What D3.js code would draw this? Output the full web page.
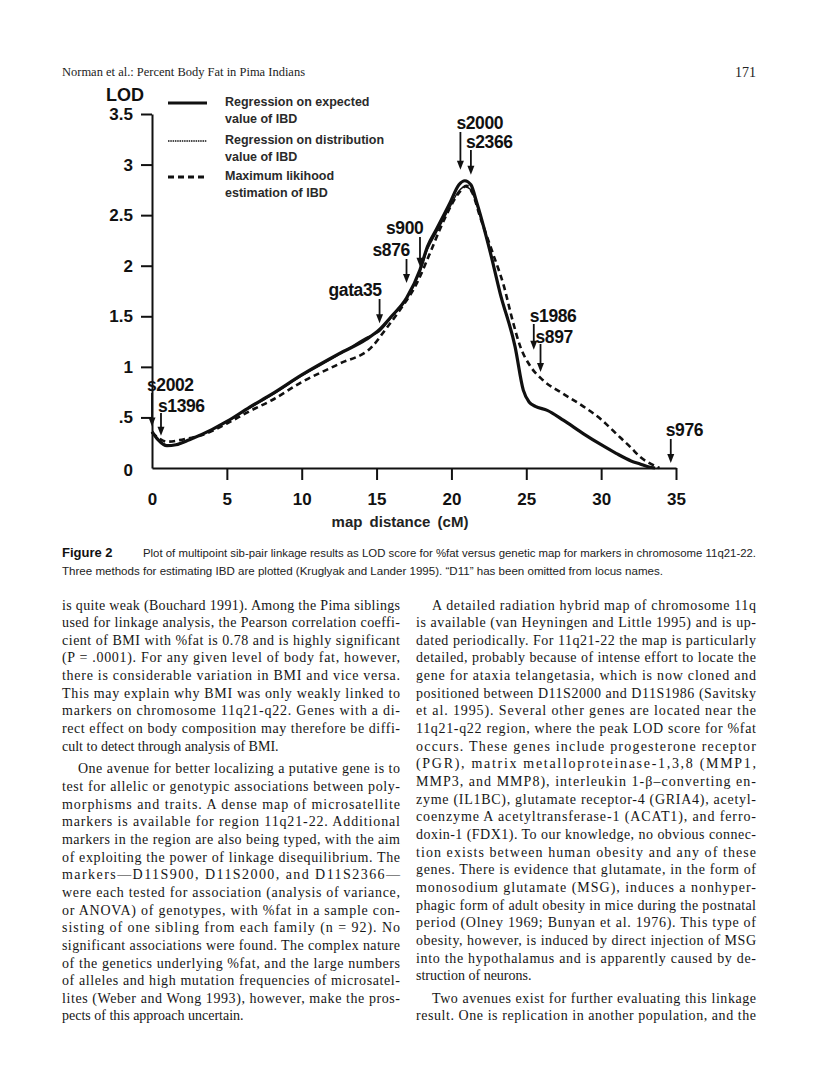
<!DOCTYPE html>
<html>
<head>
<meta charset="utf-8">
<script src="https://cdn.jsdelivr.net/npm/d3@7"></script>
<style>
  body { margin: 0; background: #fff; }
  svg { display: block; }
</style>
</head>
<body>
<div id="page"></div>
<script>
// LOD curves (cM, LOD)
var cmExpected = [0, 0.4, 1.0, 1.6, 2.5, 4, 5, 6.5, 8, 10, 12.5, 14.3, 15.2, 16, 17.0, 17.9, 18.4, 19.0, 19.9, 20.5, 20.9, 21.3, 21.7, 22.6, 23.25, 24.25, 24.8, 25.2, 25.6, 26.4, 27.5, 28.8, 30, 31, 32, 32.6, 33.2, 33.6]
var lodExpected = [0.36, 0.28, 0.22, 0.23, 0.28, 0.38, 0.46, 0.60, 0.73, 0.92, 1.13, 1.27, 1.37, 1.50, 1.68, 1.96, 2.19, 2.36, 2.62, 2.80, 2.84, 2.80, 2.62, 2.13, 1.73, 1.20, 0.77, 0.65, 0.61, 0.57, 0.47, 0.34, 0.23, 0.145, 0.07, 0.04, 0.01, 0]

var cmDistribution = [0, 0.4, 1.0, 1.6, 2.5, 4, 5, 6.5, 8, 10, 12.5, 14.3, 15.2, 16, 17.0, 17.9, 18.4, 19.0, 19.9, 20.5, 20.9, 21.3, 21.7, 22.6, 23.25, 24.25, 24.8, 25.2, 25.6, 26.4, 27.5, 28.8, 30, 31, 32, 32.6, 33.2, 33.6]
var lodDistribution = [0.35, 0.28, 0.23, 0.23, 0.28, 0.38, 0.46, 0.59, 0.72, 0.91, 1.12, 1.29, 1.35, 1.49, 1.67, 1.94, 2.16, 2.33, 2.58, 2.74, 2.78, 2.75, 2.60, 2.13, 1.73, 1.20, 0.77, 0.65, 0.61, 0.57, 0.47, 0.34, 0.23, 0.145, 0.07, 0.04, 0.01, 0]

var cmML = [0, 0.5, 1.0, 2, 3.6, 5, 6.5, 8, 10, 12.5, 14.7, 15.6, 16.5, 17.7, 18.5, 19.5, 20.5, 21.0, 21.4, 21.9, 22.7, 23.5, 24.1, 24.6, 25.3, 26.1, 27.4, 28.8, 30, 31, 32, 32.6, 33.2, 33.9]
var lodML = [0.35, 0.29, 0.26, 0.28, 0.34, 0.44, 0.56, 0.67, 0.85, 1.03, 1.20, 1.37, 1.55, 1.83, 2.10, 2.45, 2.72, 2.79, 2.72, 2.49, 2.15, 1.80, 1.45, 1.20, 1.00, 0.87, 0.74, 0.61, 0.48, 0.34, 0.20, 0.11, 0.05, 0]

var legendLabels = [
  ['Regression on expected', 'value of IBD'],
  ['Regression on distribution', 'value of IBD'],
  ['Maximum likihood', 'estimation of IBD']
]

// markers (cM) and the LOD where each arrow points
var markerNames = ['s2002', 's1396', 'gata35', 's876', 's900', 's2000', 's2366', 's1986', 's897', 's976']
var markerCM = [0, 0.6, 15.2, 17.0, 17.9, 20.6, 21.3, 25.5, 25.95, 34.65]
var markerTipLOD = [0.41, 0.32, 1.43, 1.83, 1.99, 2.95, 2.90, 1.17, 0.95, 0.05]

var xTicks = [0, 5, 10, 15, 20, 25, 30, 35]
var yTicks = [0, 0.5, 1, 1.5, 2, 2.5, 3, 3.5]

var headerLeft = 'Norman et al.: Percent Body Fat in Pima Indians'
var headerPage = '171'
var captionLabel = 'Figure 2'
var captionLines = [
  'Plot of multipoint sib-pair linkage results as LOD score for %fat versus genetic map for markers in chromosome 11q21-22.',
  'Three methods for estimating IBD are plotted (Kruglyak and Lander 1995). \u201cD11\u201d has been omitted from locus names.'
]

var leftColumn = [
  'is quite weak (Bouchard 1991). Among the Pima siblings',
  'used for linkage analysis, the Pearson correlation coeffi-',
  'cient of BMI with %fat is 0.78 and is highly significant',
  '(P = .0001). For any given level of body fat, however,',
  'there is considerable variation in BMI and vice versa.',
  'This may explain why BMI was only weakly linked to',
  'markers on chromosome 11q21-q22. Genes with a di-',
  'rect effect on body composition may therefore be diffi-',
  'cult to detect through analysis of BMI.',
  'One avenue for better localizing a putative gene is to',
  'test for allelic or genotypic associations between poly-',
  'morphisms and traits. A dense map of microsatellite',
  'markers is available for region 11q21-22. Additional',
  'markers in the region are also being typed, with the aim',
  'of exploiting the power of linkage disequilibrium. The',
  'markers\u2014D11S900, D11S2000, and D11S2366\u2014',
  'were each tested for association (analysis of variance,',
  'or ANOVA) of genotypes, with %fat in a sample con-',
  'sisting of one sibling from each family (n = 92). No',
  'significant associations were found. The complex nature',
  'of the genetics underlying %fat, and the large numbers',
  'of alleles and high mutation frequencies of microsatel-',
  'lites (Weber and Wong 1993), however, make the pros-',
  'pects of this approach uncertain.'
]
var leftParStarts = [9]
var leftParEnds = [8, 23]

var rightColumn = [
  'A detailed radiation hybrid map of chromosome 11q',
  'is available (van Heyningen and Little 1995) and is up-',
  'dated periodically. For 11q21-22 the map is particularly',
  'detailed, probably because of intense effort to locate the',
  'gene for ataxia telangetasia, which is now cloned and',
  'positioned between D11S2000 and D11S1986 (Savitsky',
  'et al. 1995). Several other genes are located near the',
  '11q21-q22 region, where the peak LOD score for %fat',
  'occurs. These genes include progesterone receptor',
  '(PGR), matrix metalloproteinase-1,3,8 (MMP1,',
  'MMP3, and MMP8), interleukin 1-\u03b2\u2013converting en-',
  'zyme (IL1BC), glutamate receptor-4 (GRIA4), acetyl-',
  'coenzyme A acetyltransferase-1 (ACAT1), and ferro-',
  'doxin-1 (FDX1). To our knowledge, no obvious connec-',
  'tion exists between human obesity and any of these',
  'genes. There is evidence that glutamate, in the form of',
  'monosodium glutamate (MSG), induces a nonhyper-',
  'phagic form of adult obesity in mice during the postnatal',
  'period (Olney 1969; Bunyan et al. 1976). This type of',
  'obesity, however, is induced by direct injection of MSG',
  'into the hypothalamus and is apparently caused by de-',
  'struction of neurons.',
  'Two avenues exist for further evaluating this linkage',
  'result. One is replication in another population, and the'
]
var rightParStarts = [0, 22]
var rightParEnds = [21]

var W = 816, H = 1081
var svg = d3.select('#page').append('svg').attr('width', W).attr('height', H)
svg.append('rect').attr('width', W).attr('height', H).attr('fill', '#fff')

var serif = '"Liberation Serif", "Times New Roman", serif'
var sans = '"Liberation Sans", Arial, Helvetica, sans-serif'

// header
svg.append('text').attr('x', 62).attr('y', 76).attr('font-family', serif).attr('font-size', 13)
  .attr('fill', '#222').attr('textLength', 243).attr('lengthAdjust', 'spacingAndGlyphs').text(headerLeft)
svg.append('text').attr('x', 756).attr('y', 77).attr('text-anchor', 'end').attr('font-family', serif)
  .attr('font-size', 14).attr('fill', '#222').text(headerPage)

// chart
var x = d3.scaleLinear().domain([0, 35]).range([152, 676])
var y = d3.scaleLinear().domain([0, 3.5]).range([468, 114])

var chart = svg.append('g')

var xAxis = chart.append('g').attr('transform', 'translate(0,' + y(0) + ')')
  .call(d3.axisBottom(x).tickValues(xTicks).tickSize(12).tickSizeOuter(0).tickPadding(13).tickFormat(d3.format('d')))
var yAxis = chart.append('g').attr('transform', 'translate(' + x(0) + ',0)')
  .call(d3.axisLeft(y).tickValues(yTicks).tickSize(11).tickSizeOuter(0).tickPadding(8)
    .tickFormat(function(d) { return d === 0.5 ? '.5' : String(d) }))

;[xAxis, yAxis].forEach(function(a) {
  a.select('.domain').attr('stroke', '#111').attr('stroke-width', 2)
  a.selectAll('.tick line').attr('stroke', '#111').attr('stroke-width', 2)
  a.selectAll('.tick text').attr('fill', '#111').attr('font-family', sans)
    .attr('font-weight', 'bold').attr('font-size', 17)
  a.selectAll('.tick').filter(function(d) { return d === 0 }).select('line').remove()
})
yAxis.selectAll('.tick').filter(function(d) { return d === 0 }).select('text').attr('dy', '0.45em')

chart.append('text').attr('x', 106).attr('y', 101).attr('font-family', sans).attr('font-weight', 'bold')
  .attr('font-size', 18).attr('fill', '#111').text('LOD')
chart.append('text').attr('x', 400).attr('y', 527).attr('text-anchor', 'middle').attr('font-family', sans)
  .attr('font-weight', 'bold').attr('font-size', 15).attr('word-spacing', 3).attr('fill', '#222')
  .text('map distance (cM)')

var line = d3.line().x(function(d) { return x(d[0]) }).y(function(d) { return y(d[1]) }).curve(d3.curveMonotoneX)

var series = [
  { cm: cmML, lod: lodML, width: 2.6, dash: '6,4' },
  { cm: cmExpected, lod: lodExpected, width: 3.2, dash: null },
  { cm: cmDistribution, lod: lodDistribution, width: 1.4, dash: null }
]
series.forEach(function(s) {
  chart.append('path').datum(d3.zip(s.cm, s.lod)).attr('d', line).attr('fill', 'none')
    .attr('stroke', '#111').attr('stroke-width', s.width).attr('stroke-dasharray', s.dash)
    .attr('stroke-linejoin', 'round')
})

// legend
var legendY = [103, 141, 177]
var legendStyles = [{ w: 3.2, dash: null }, { w: 1.6, dash: '1.5,0.8' }, { w: 2.8, dash: '6,4' }]
legendY.forEach(function(ly, i) {
  chart.append('line').attr('x1', 168).attr('x2', 207).attr('y1', ly).attr('y2', ly)
    .attr('stroke', '#111').attr('stroke-width', legendStyles[i].w).attr('stroke-dasharray', legendStyles[i].dash)
  legendLabels[i].forEach(function(t, j) {
    chart.append('text').attr('x', 225).attr('y', ly + 3 + j * 17).attr('font-family', sans)
      .attr('font-weight', 'bold').attr('font-size', 12.5).attr('fill', '#2a2a2a').text(t)
  })
})

// marker arrows: label offset from arrow x, label centre y, arrow start y
var markerLayout = [
  { dx: -5, ly: 385, top: 393 },
  { dx: -3, ly: 406, top: 413 },
  { dx: -51, ly: 290, top: 299 },
  { dx: -34, ly: 250, top: 259 },
  { dx: -34, ly: 228, top: 237 },
  { dx: -4, ly: 123, top: 132 },
  { dx: -5, ly: 142, top: 150 },
  { dx: -4, ly: 316, top: 324 },
  { dx: -5, ly: 337, top: 344 },
  { dx: -5, ly: 430, top: 439 }
]
markerNames.forEach(function(name, i) {
  var mx = x(markerCM[i]), tip = y(markerTipLOD[i]), L = markerLayout[i]
  chart.append('line').attr('x1', mx).attr('x2', mx).attr('y1', L.top).attr('y2', tip - 6)
    .attr('stroke', '#111').attr('stroke-width', 1.8)
  chart.append('path').attr('d', 'M' + (mx - 3.5) + ',' + (tip - 9) + 'L' + (mx + 3.5) + ',' + (tip - 9) + 'L' + mx + ',' + tip + 'Z')
    .attr('fill', '#111')
  chart.append('text').attr('x', mx + L.dx).attr('y', L.ly + 6).attr('font-family', sans)
    .attr('font-weight', 'bold').attr('font-size', 17.5).attr('letter-spacing', -0.4).attr('fill', '#111').text(name)
})

// caption
svg.append('text').attr('x', 62).attr('y', 557).attr('font-family', sans).attr('font-weight', 'bold')
  .attr('font-size', 13).attr('fill', '#111').text(captionLabel)
svg.append('text').attr('x', 143).attr('y', 557).attr('font-family', sans).attr('font-size', 11.5)
  .attr('fill', '#222').attr('textLength', 613).attr('lengthAdjust', 'spacingAndGlyphs').text(captionLines[0])
svg.append('text').attr('x', 62).attr('y', 575).attr('font-family', sans).attr('font-size', 11.5)
  .attr('fill', '#222').attr('textLength', 601).attr('lengthAdjust', 'spacingAndGlyphs').text(captionLines[1])

// body text columns
function drawColumn(lines, parStarts, parEnds, x0, width) {
  var yPos = 609.5
  lines.forEach(function(t, i) {
    var indent = parStarts.indexOf(i) >= 0 && i > 0 || (parStarts.indexOf(i) >= 0 && x0 > 400) ? 16 : 0
    var txt = svg.append('text').attr('x', x0 + indent).attr('y', yPos).attr('font-family', serif)
      .attr('font-size', 14).attr('fill', '#161616').text(t)
    if (parEnds.indexOf(i) < 0) {
      txt.attr('textLength', width - indent).attr('lengthAdjust', 'spacing')
    }
    yPos += 17.65
    if (parEnds.indexOf(i) >= 0) yPos += 5
  })
}
drawColumn(leftColumn, leftParStarts, leftParEnds, 62, 338)
drawColumn(rightColumn, rightParStarts, rightParEnds, 416, 340)
</script>
</body>
</html>
